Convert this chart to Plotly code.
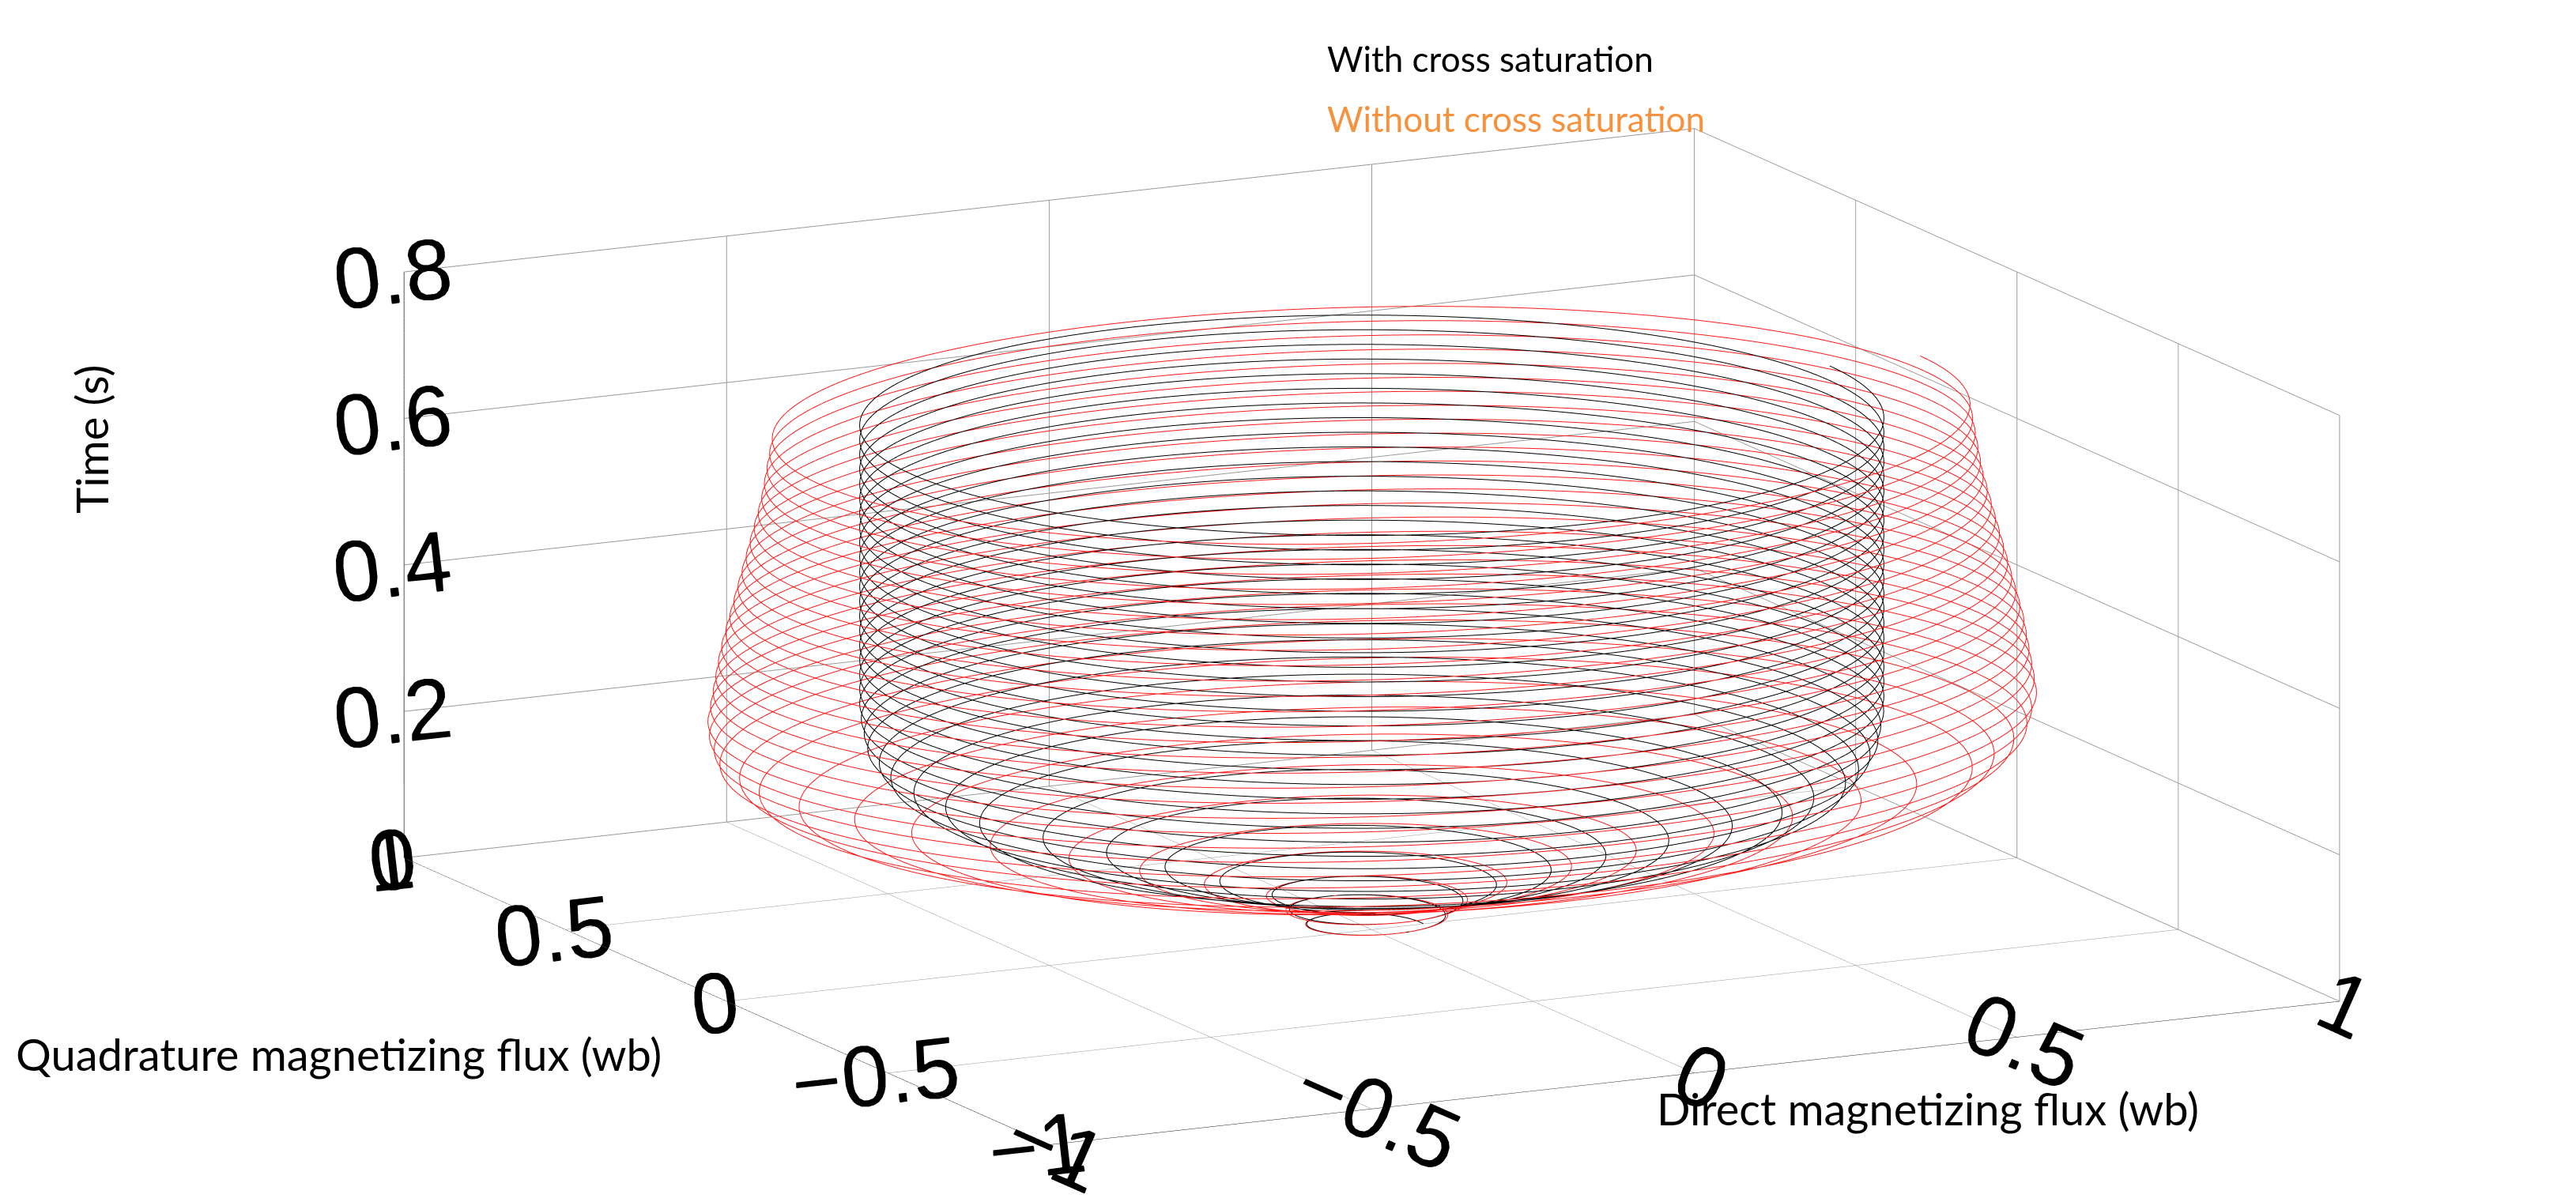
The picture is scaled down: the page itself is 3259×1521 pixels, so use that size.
import numpy as np
import plotly.graph_objects as go

# Envelope (time in s, flux amplitude in wb)
t_knots = [0.0, 0.05, 0.1, 0.15, 0.2, 0.25, 0.3, 0.4, 0.5, 0.6, 0.7]
r_black = [0.08, 0.14, 0.33, 0.55, 0.66, 0.70, 0.71, 0.71, 0.71, 0.71, 0.71]
r_red_d = [0.08, 0.15, 0.38, 0.66, 0.86, 0.93, 0.95, 0.93, 0.90, 0.87, 0.85]
r_red_q = [0.08, 0.14, 0.34, 0.58, 0.74, 0.80, 0.80, 0.79, 0.77, 0.75, 0.74]
supply_hz = 50
t_end = 0.7

t = np.linspace(0, t_end, 6000)
w = 2 * np.pi * supply_hz * t
rb = np.interp(t, t_knots, r_black)
rd = np.interp(t, t_knots, r_red_d)
rq = np.interp(t, t_knots, r_red_q)

fig = go.Figure()
fig.add_trace(go.Scatter3d(x=rd * np.cos(w), y=rq * np.sin(w), z=t, mode="lines",
                           line=dict(color="#ff1a1a", width=2), name="Without cross saturation",
                           showlegend=False))
fig.add_trace(go.Scatter3d(x=rb * np.cos(w), y=rb * np.sin(w), z=t, mode="lines",
                           line=dict(color="black", width=2), name="With cross saturation",
                           showlegend=False))

ax = dict(showbackground=False, gridcolor="#999999", linecolor="black", showline=True,
          tickfont=dict(size=36, family="Liberation Sans", color="black"),
          zeroline=False, showspikes=False, title=dict(text=""))
fig.update_layout(
    width=3259, height=1521, paper_bgcolor="white",
    margin=dict(l=0, r=0, t=0, b=0),
    font=dict(family="Lato", color="black"),
    scene=dict(
        domain=dict(x=[0.06, 1], y=[0, 1]),
        xaxis=dict(ax, range=[-1, 1], tickvals=[-1, -0.5, 0, 0.5, 1]),
        yaxis=dict(ax, range=[-1, 1], tickvals=[-1, -0.5, 0, 0.5, 1]),
        zaxis=dict(ax, range=[0, 0.8], tickvals=[0, 0.2, 0.4, 0.6, 0.8]),
        aspectmode="manual", aspectratio=dict(x=2.4, y=2.4, z=1.0),
        camera=dict(eye=dict(x=-1.0, y=-2.0, z=0.56), center=dict(x=0, y=0, z=0.05),
                    projection=dict(type="orthographic")),
    ),
    annotations=[
        dict(text="With cross saturation", x=0.512, y=0.975, xref="paper", yref="paper",
             xanchor="left", showarrow=False, font=dict(size=44, color="black")),
        dict(text="Without cross saturation", x=0.512, y=0.925, xref="paper", yref="paper",
             xanchor="left", showarrow=False, font=dict(size=44, color="#f5923e")),
        dict(text="Time (s)", x=0.022, y=0.64, xref="paper", yref="paper", textangle=-90,
             showarrow=False, font=dict(size=56)),
        dict(text="Quadrature magnetizing flux (wb)", x=0.003, y=0.105, xref="paper", yref="paper",
             xanchor="left", showarrow=False, font=dict(size=56)),
        dict(text="Direct magnetizing flux (wb)", x=0.64, y=0.06, xref="paper", yref="paper",
             xanchor="left", showarrow=False, font=dict(size=56)),
    ],
)
fig.write_html("out.html")
